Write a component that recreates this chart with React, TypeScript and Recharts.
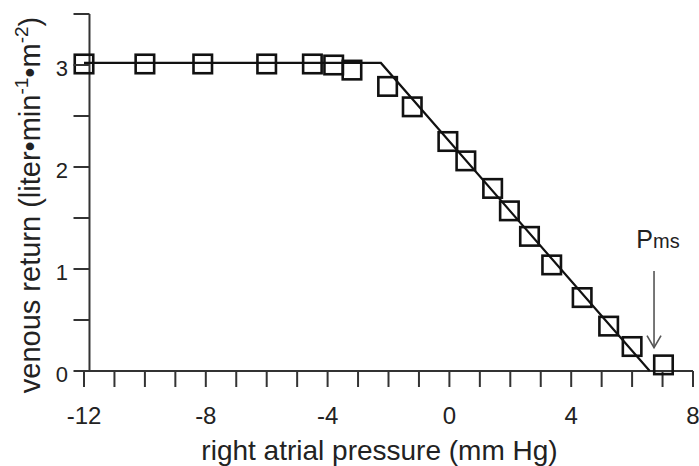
import React from "react";
import { ScatterChart, Scatter, XAxis, YAxis, ReferenceLine } from "recharts";

// measured points (right atrial pressure, venous return)
const pressure = [-12, -10, -8.1, -6, -4.5, -3.8, -3.2, -2.03, -1.22, -0.05, 0.54, 1.42, 1.97, 2.63, 3.36, 4.36, 5.23, 6.0, 7.03];
const venousReturn = [3.01, 3.01, 3.01, 3.01, 3.01, 3.0, 2.95, 2.79, 2.59, 2.25, 2.06, 1.79, 1.57, 1.32, 1.04, 0.72, 0.44, 0.24, 0.06];

// fitted curve: plateau then linear fall to Pms
const fitX = [-12, -2.25, 6.58];
const fitY = [3.02, 3.02, 0];

const xTicks = [-12, -11, -10, -9, -8, -7, -6, -5, -4, -3, -2, -1, 0, 1, 2, 3, 4, 5, 6, 7, 8];
const yTicks = [0, 0.5, 1, 1.5, 2, 2.5, 3, 3.5];

const pmsArrow = [{ x: 6.72, y: 0.98 }, { x: 6.72, y: 0.23 }];
const yAxisAt = -11.82;

const FONT = '"Liberation Sans", Arial, Helvetica, sans-serif';
const AXIS = "#333";
const INK = "#111";

const points = pressure.map((x, i) => ({ x, y: venousReturn[i] }));
const fit = fitX.map((x, i) => ({ x, y: fitY[i] }));

const SquareMarker = (props: any) => {
  const { cx, cy } = props;
  const s = 18.5;
  return <rect x={cx - s / 2} y={cy - s / 2} width={s} height={s} fill="none" stroke={INK} strokeWidth={2.6} />;
};

const XTick = (props: any) => {
  const { x, y, payload } = props;
  if (payload.value % 4 !== 0) return <g />;
  return (
    <text x={x} y={y + 35} textAnchor="middle" fontSize={24} fontFamily={FONT} fill="#222">
      {payload.value}
    </text>
  );
};

// y axis line sits a little right of x=-12, so ticks are shifted to match it
const YTick = (props: any) => {
  const { x, y, payload } = props;
  const shift = 5.5;
  return (
    <g>
      <line x1={x + 6 + shift} x2={x + 22 + shift} y1={y} y2={y} stroke={AXIS} strokeWidth={2} />
      {Number.isInteger(payload.value) && (
        <text x={x + shift + 0.5} y={y + 3} dy="0.36em" textAnchor="end" fontSize={22} fontFamily={FONT} fill="#222">
          {payload.value}
        </text>
      )}
    </g>
  );
};

const ArrowShape = (props: any) => {
  const { x1, y1, x2, y2 } = props;
  return (
    <g>
      <line x1={x1} y1={y1} x2={x2} y2={y2} stroke="#555" strokeWidth={1.6} />
      <polyline points={`${x2 - 7},${y2 - 12} ${x2},${y2} ${x2 + 7},${y2 - 12}`} fill="none" stroke="#555" strokeWidth={1.6} />
      <text x={x1 + 4} y={y1 - 23} textAnchor="middle" fontFamily={FONT} fill="#222">
        <tspan fontSize={25}>P</tspan>
        <tspan fontSize={20}>ms</tspan>
      </text>
    </g>
  );
};

export default function App() {
  return (
    <div style={{ position: "absolute", left: 0, top: 0, width: 699, height: 466, background: "#fff" }}>
      <ScatterChart width={699} height={466} margin={{ top: 14, right: 6, left: 0, bottom: 0 }}>
        <XAxis
          type="number"
          dataKey="x"
          domain={[-12, 8]}
          ticks={xTicks}
          interval={0}
          height={95}
          tickSize={16}
          tickMargin={2}
          axisLine={{ stroke: AXIS, strokeWidth: 2 }}
          tickLine={{ stroke: AXIS, strokeWidth: 2 }}
          tick={<XTick />}
          label={{
            content: (p: any) => {
              const vb = p.viewBox;
              return (
                <text x={vb.x + vb.width / 2 - 9} y={460} textAnchor="middle" fontSize={28} fontFamily={FONT} fill="#222">
                  right atrial pressure (mm Hg)
                </text>
              );
            },
          }}
        />
        <YAxis
          type="number"
          dataKey="y"
          domain={[0, 3.5]}
          ticks={yTicks}
          interval={0}
          width={84}
          tickSize={16}
          tickMargin={6}
          axisLine={false}
          tickLine={false}
          tick={<YTick />}
          label={{
            content: () => (
              <text
                x={40}
                y={205}
                transform="rotate(-90, 40, 205)"
                textAnchor="middle"
                fontSize={29}
                fontFamily={FONT}
                fill="#222"
              >
                venous return (liter•min
                <tspan dy={-12} fontSize={19}>-1</tspan>
                <tspan dy={12}>•m</tspan>
                <tspan dy={-12} fontSize={19}>-2</tspan>
                <tspan dy={12}>)</tspan>
              </text>
            ),
          }}
        />
        <ReferenceLine x={yAxisAt} stroke={AXIS} strokeWidth={2} />
        <Scatter
          data={fit}
          line={{ stroke: INK, strokeWidth: 2.2 }}
          shape={() => <g />}
          isAnimationActive={false}
        />
        <Scatter data={points} shape={<SquareMarker />} isAnimationActive={false} />
        <ReferenceLine segment={pmsArrow} shape={<ArrowShape />} />
      </ScatterChart>
    </div>
  );
}
